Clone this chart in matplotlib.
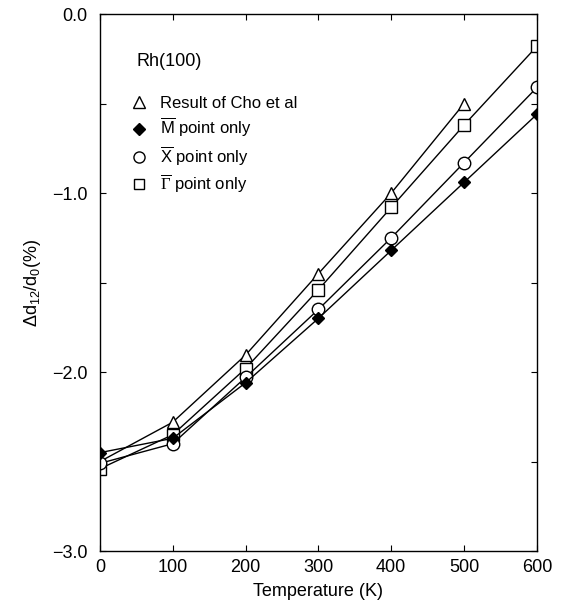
import matplotlib
matplotlib.use("Agg")
from matplotlib import pyplot as plt
from matplotlib.ticker import MultipleLocator, FuncFormatter
from matplotlib.lines import Line2D

plt.rcParams['font.family'] = ['Liberation Sans', 'DejaVu Sans']
plt.rcParams['mathtext.fontset'] = 'custom'
plt.rcParams['mathtext.rm'] = 'Liberation Sans'
plt.rcParams['mathtext.it'] = 'Liberation Sans:italic'
plt.rcParams['mathtext.tt'] = 'Liberation Serif'

temps = [0, 100, 200, 300, 400, 500, 600]

cho = [-2.50, -2.28, -1.905, -1.45, -1.00, -0.50]
m_only = [-2.45, -2.37, -2.06, -1.70, -1.32, -0.94, -0.56]
x_only = [-2.51, -2.40, -2.03, -1.65, -1.25, -0.83, -0.41]
g_only = [-2.54, -2.35, -1.98, -1.54, -1.08, -0.62, -0.18]

labels = ["Result of Cho et al",
          r"$\overline{\mathrm{M}}$ point only",
          r"$\overline{\mathrm{X}}$ point only",
          r"$\overline{\mathtt{\Gamma}}$ point only"]

fig = plt.figure(figsize=(5.64, 6.11), dpi=100)
ax = fig.add_axes([0.177, 0.098, 0.775, 0.879])

ax.plot(temps[:len(cho)], cho, color='k', lw=1.0, marker='^', ms=9,
        mfc='white', mec='k', mew=1.0)
ax.plot(temps, g_only, color='k', lw=1.0, marker='s', ms=8,
        mfc='white', mec='k', mew=1.0)
ax.plot(temps, x_only, color='k', lw=1.0, marker='o', ms=9,
        mfc='white', mec='k', mew=1.0)
ax.plot(temps, m_only, color='k', lw=1.0, marker='D', ms=6.5,
        mfc='k', mec='k', mew=1.0)

ax.set_xlim(0, 600)
ax.set_ylim(-3.0, 0.0)
ax.xaxis.set_major_locator(MultipleLocator(100))
ax.yaxis.set_major_locator(MultipleLocator(1.0))
ax.yaxis.set_minor_locator(MultipleLocator(0.5))
ax.yaxis.set_major_formatter(FuncFormatter(lambda v, p: ("%.1f" % v).replace("-", "\u2212")))
ax.tick_params(which='both', direction='in', top=True, right=True,
               length=4, width=0.8, labelsize=13)
ax.tick_params(axis='y', pad=9)
ax.tick_params(axis='x', pad=6)
for s in ax.spines.values():
    s.set_linewidth(1.0)

ax.set_xlabel("Temperature (K)", fontsize=13, labelpad=5)
ax.set_ylabel(r"$\Delta$d$_{12}$/d$_0$(%)", fontsize=13, labelpad=6)

ax.text(0.085, 0.911, "Rh(100)", transform=ax.transAxes, fontsize=13, va='center')

handles = [
    Line2D([], [], ls='none', marker='^', ms=8, mfc='white', mec='k'),
    Line2D([], [], ls='none', marker='D', ms=6, mfc='k', mec='k'),
    Line2D([], [], ls='none', marker='o', ms=8, mfc='white', mec='k'),
    Line2D([], [], ls='none', marker='s', ms=7, mfc='white', mec='k'),
]
ax.legend(handles, labels, loc='upper left', bbox_to_anchor=(0.055, 0.86),
          frameon=False, fontsize=12, handlelength=1.0, handletextpad=0.75,
          labelspacing=0.32, borderaxespad=0)

fig.savefig("out.png", dpi=100)
